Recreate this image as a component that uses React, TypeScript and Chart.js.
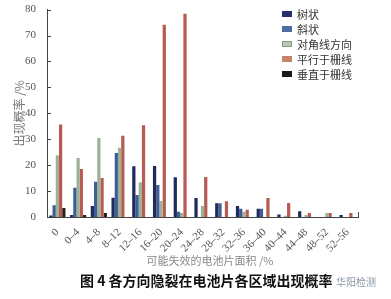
import React, { useEffect, useRef } from "react";
import { Chart, registerables } from "chart.js";

Chart.register(...registerables);

const categories = ["0", "0–4", "4–8", "8–12", "12–16", "16–20", "20–24", "24–28", "28–32", "32–36", "36–40", "40–44", "44–48", "48–52", "52–56"];
const seriesNames = ["树状", "斜状", "对角线方向", "平行于栅线", "垂直于栅线"];
const treeValues = [0.6, 0.8, 4.2, 7.4, 19.6, 19.7, 15.3, 7.3, 5.3, 4.2, 3.2, 1, 2.2, 0, 0.8];
const slantValues = [4.5, 11.3, 13.6, 24.7, 8.5, 12.3, 2, 0, 5.3, 3.2, 3.2, 0, 0, 0, 0];
const diagonalValues = [23.8, 22.8, 30.5, 26.7, 13.4, 6.2, 1.5, 4.2, 0, 2, 0, 0.5, 0.8, 1.5, 0];
const parallelValues = [35.7, 18.5, 15, 31.3, 35.4, 74.2, 78.4, 15.4, 6.1, 2.8, 7.3, 5.4, 1.5, 1.5, 1.5];
const perpendicularValues = [3.5, 0.8, 1.5, 0, 0, 0, 0, 0, 0, 0, 0, 0, 0, 0, 0];
const yTicks = [0, 10, 20, 30, 40, 50, 60, 70, 80];
const xTitle = "可能失效的电池片面积 /%";
const yTitle = "出现概率 /%";

const colors = ["#1f2a5e", "#3d5f93", "#9fb095", "#b65a52", "#2b1d18"];
const legendColors = ["#2a2f6a", "#4a6ea0", "#b7cbb0", "#c9826a", "#1a1a1a"];

const innerTicks = {
  id: "innerTicks",
  afterDraw(chart: any) {
    const ctx = chart.ctx;
    const y = chart.scales.y;
    const area = chart.chartArea;
    ctx.save();
    ctx.strokeStyle = "#444";
    ctx.lineWidth = 1;
    yTicks.forEach((v) => {
      const py = Math.round(y.getPixelForValue(v)) + 0.5;
      ctx.beginPath();
      ctx.moveTo(area.left, py);
      ctx.lineTo(area.left + 4, py);
      ctx.stroke();
    });
    ctx.beginPath();
    ctx.moveTo(Math.round(area.right) + 0.5, area.bottom);
    ctx.lineTo(Math.round(area.right) + 0.5, area.bottom - 5);
    ctx.stroke();
    ctx.restore();
  },
};

export default function App() {
  const ref = useRef<HTMLCanvasElement>(null);
  useEffect(() => {
    const values = [treeValues, slantValues, diagonalValues, parallelValues, perpendicularValues];
    const chart = new Chart(ref.current as HTMLCanvasElement, {
      type: "bar",
      data: {
        labels: categories,
        datasets: seriesNames.map((n, i) => ({
          label: n,
          data: values[i],
          backgroundColor: colors[i],
          borderWidth: 0,
          categoryPercentage: 0.78,
          barPercentage: 1,
        })),
      },
      options: {
        responsive: false,
        animation: false,
        layout: { padding: { left: 12, top: 9, right: 33, bottom: 0 } },
        plugins: { legend: { display: false }, tooltip: { enabled: false } },
        scales: {
          x: {
            grid: { display: false },
            border: { display: true, color: "#444" },
            ticks: {
              minRotation: 45,
              maxRotation: 45,
              autoSkip: false,
              padding: 1,
              color: "#555",
              font: { family: "'Liberation Serif', serif", size: 11 },
            },
            afterFit: (s: any) => {
              s.height = 53;
            },
          },
          y: {
            min: 0,
            max: 80,
            grid: { display: false },
            border: { display: true, color: "#444" },
            ticks: {
              stepSize: 10,
              padding: 3,
              color: "#555",
              font: { family: "'Liberation Serif', serif", size: 11 },
            },
            title: {
              display: true,
              text: yTitle,
              color: "#777",
              padding: { top: 0, bottom: 0 },
              font: { family: "'Noto Sans CJK SC', sans-serif", size: 12 },
            },
            afterFit: (s: any) => {
              s.width = 35;
            },
          },
        },
      },
      plugins: [innerTicks],
    });
    return () => chart.destroy();
  }, []);

  return (
    <div style={{ position: "absolute", left: 0, top: 0, width: 391, height: 299, background: "#fff", overflow: "hidden" }}>
      <canvas ref={ref} width={391} height={270} style={{ position: "absolute", left: 0, top: 0 }} />
      <div style={{ position: "absolute", left: 110, width: 200, top: 252, textAlign: "center", fontFamily: "'Noto Sans CJK SC', sans-serif", fontSize: 11, lineHeight: "16px", color: "#888", whiteSpace: "nowrap" }}>
        {xTitle}
      </div>
      <div style={{ position: "absolute", left: 282, top: 7, fontFamily: "'Noto Sans CJK SC', sans-serif", fontSize: 11, color: "#333" }}>
        {seriesNames.map((n, i) => (
          <div key={n} style={{ display: "flex", alignItems: "center", height: 14.8 }}>
            <span style={{ display: "inline-block", width: 10, height: 6, background: legendColors[i], border: i === 2 ? "1px solid #8a9a82" : "none", boxSizing: "border-box", marginRight: 5 }} />
            <span>{n}</span>
          </div>
        ))}
      </div>
      <div style={{ position: "absolute", left: 80, top: 270, fontFamily: "'Noto Sans CJK SC', sans-serif", fontSize: 14, fontWeight: "bold", color: "#111", whiteSpace: "nowrap" }}>
        图 4 各方向隐裂在电池片各区域出现概率
      </div>
      <div style={{ position: "absolute", left: 336, top: 274, fontFamily: "'Noto Sans CJK SC', sans-serif", fontSize: 10, color: "#8a96a6", whiteSpace: "nowrap" }}>
        华阳检测
      </div>
    </div>
  );
}
